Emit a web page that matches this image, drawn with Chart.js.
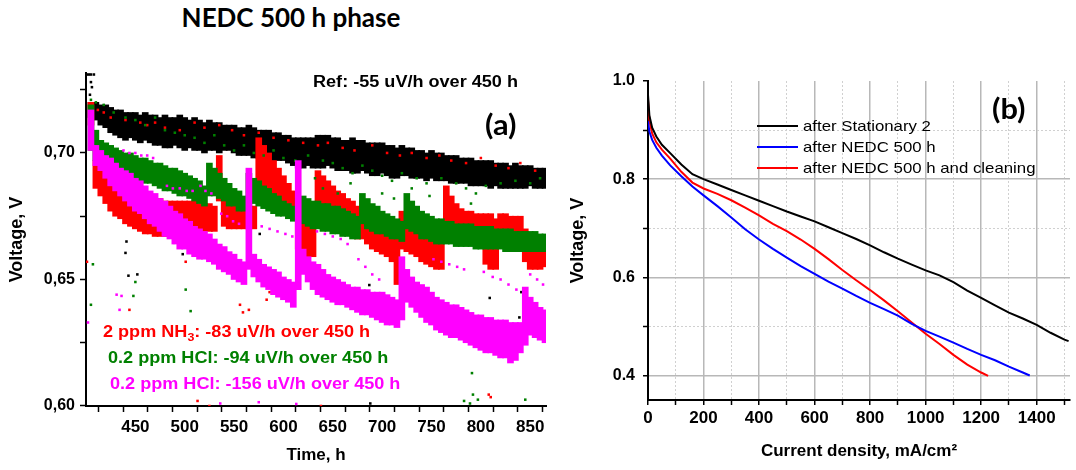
<!DOCTYPE html>
<html>
<head>
<meta charset="utf-8">
<script src="https://cdn.jsdelivr.net/npm/chart.js@4.4.0/dist/chart.umd.min.js"></script>
<style>
  html, body { margin: 0; padding: 0; background: #fff; }
  body { width: 1076px; height: 470px; position: relative; overflow: hidden; }
  #title { position: absolute; left: 0; top: 1px; width: 582px; text-align: center;
           font: bold 26px Lato, sans-serif; line-height: 32px; color: #000; }
  .panel { position: absolute; top: 0; height: 470px; }
  #left { left: 0; width: 560px; }
  #right { left: 560px; width: 516px; }
</style>
</head>
<body>
<div id="title">NEDC 500 h phase</div>
<div class="panel" id="left"><canvas id="timeChart"></canvas></div>
<div class="panel" id="right"><canvas id="polChart"></canvas></div>

<script>
// ---- (a) voltage vs time, 5 h bins: lower / upper edge of each cloud ----
const hours = [
  405,410,415,420,425,430,435,440,445,450,
  455,460,465,470,475,480,485,490,495,500,
  505,510,515,520,525,530,535,540,545,550,
  555,560,565,570,575,580,585,590,595,600,
  605,610,615,620,625,630,635,640,645,650,
  655,660,665,670,675,680,685,690,695,700,
  705,710,715,720,725,730,735,740,745,750,
  755,760,765,770,775,780,785,790,795,800,
  805,810,815,820,825,830,835,840,845,850,
  855,860,865
];

const refHigh = [
  0.720,0.720,0.719,0.719,0.718,0.717,0.717,0.716,0.716,0.716,
  0.715,0.716,0.715,0.715,0.714,0.715,0.714,0.714,0.715,0.714,
  0.713,0.714,0.713,0.712,0.713,0.712,0.712,0.711,0.711,0.711,
  0.710,0.710,0.711,0.710,0.709,0.709,0.709,0.708,0.708,0.707,
  0.707,0.706,0.706,0.706,0.706,0.706,0.707,0.707,0.707,0.706,
  0.706,0.705,0.705,0.706,0.705,0.705,0.704,0.704,0.704,0.704,
  0.703,0.703,0.702,0.703,0.702,0.702,0.701,0.701,0.700,0.701,
  0.700,0.700,0.699,0.699,0.699,0.698,0.698,0.698,0.697,0.697,
  0.697,0.697,0.696,0.696,0.696,0.695,0.696,0.695,0.695,0.695,
  0.694,0.694,0.694
];
const refLow = [
  0.714,0.713,0.711,0.710,0.708,0.707,0.706,0.705,0.706,0.705,
  0.704,0.705,0.704,0.703,0.703,0.702,0.702,0.703,0.702,0.701,
  0.702,0.701,0.701,0.700,0.701,0.701,0.700,0.701,0.701,0.700,
  0.699,0.699,0.699,0.698,0.698,0.698,0.697,0.697,0.697,0.697,
  0.696,0.695,0.694,0.694,0.695,0.694,0.694,0.694,0.695,0.694,
  0.693,0.693,0.693,0.692,0.692,0.693,0.692,0.691,0.691,0.692,
  0.691,0.690,0.690,0.691,0.691,0.690,0.690,0.690,0.689,0.690,
  0.689,0.689,0.689,0.688,0.688,0.688,0.688,0.687,0.687,0.687,
  0.687,0.686,0.687,0.686,0.686,0.686,0.686,0.686,0.686,0.687,
  0.686,0.686,0.686
];

const nh3High = [
  0.720,0.697,0.693,0.692,0.690,0.689,0.687,0.686,0.685,0.685,
  0.684,0.683,0.683,0.682,0.682,0.681,0.681,0.681,0.681,0.681,
  0.681,0.681,0.680,0.680,0.680,0.679,0.699,0.683,0.682,0.681,
  0.681,0.680,0.679,0.679,0.706,0.703,0.700,0.697,0.694,0.691,
  0.688,0.685,0.681,0.677,0.677,0.676,0.693,0.691,0.689,0.687,
  0.685,0.684,0.682,0.681,0.679,0.681,0.676,0.674,0.673,0.672,
  0.672,0.671,0.670,0.677,0.676,0.675,0.674,0.672,0.670,0.669,
  0.666,0.664,0.687,0.683,0.680,0.678,0.677,0.677,0.676,0.676,
  0.676,0.676,0.674,0.676,0.676,0.675,0.675,0.675,0.670,0.668,
  0.667,0.666,0.665
];
const nh3Low = [
  0.711,0.686,0.683,0.680,0.677,0.675,0.674,0.672,0.671,0.670,
  0.669,0.668,0.668,0.667,0.667,0.667,0.667,0.668,0.668,0.668,
  0.668,0.668,0.668,0.669,0.669,0.669,0.681,0.671,0.670,0.670,
  0.670,0.670,0.670,0.670,0.687,0.683,0.681,0.679,0.678,0.677,
  0.677,0.675,0.662,0.660,0.659,0.659,0.676,0.674,0.673,0.671,
  0.670,0.669,0.668,0.667,0.666,0.666,0.664,0.662,0.661,0.660,
  0.659,0.657,0.648,0.662,0.661,0.660,0.659,0.657,0.656,0.655,
  0.654,0.654,0.671,0.669,0.667,0.667,0.667,0.667,0.666,0.666,
  0.656,0.654,0.654,0.668,0.668,0.668,0.667,0.667,0.657,0.654,
  0.654,0.654,0.655
];

const hclHigh = [
  0.719,0.709,0.705,0.704,0.703,0.702,0.701,0.700,0.700,0.699,
  0.698,0.698,0.697,0.696,0.696,0.695,0.694,0.694,0.693,0.692,
  0.691,0.690,0.689,0.687,0.696,0.694,0.692,0.690,0.688,0.686,
  0.685,0.683,0.692,0.690,0.689,0.687,0.686,0.684,0.683,0.681,
  0.680,0.679,0.682,0.683,0.682,0.681,0.681,0.680,0.680,0.679,
  0.679,0.678,0.677,0.676,0.675,0.684,0.682,0.680,0.679,0.677,
  0.676,0.675,0.674,0.673,0.684,0.681,0.679,0.677,0.676,0.675,
  0.674,0.674,0.673,0.673,0.672,0.672,0.672,0.672,0.671,0.671,
  0.671,0.671,0.670,0.670,0.670,0.670,0.669,0.669,0.669,0.669,
  0.669,0.668,0.668
];
const hclLow = [
  0.701,0.697,0.696,0.695,0.694,0.693,0.692,0.691,0.690,0.690,
  0.689,0.688,0.688,0.687,0.686,0.685,0.685,0.684,0.683,0.683,
  0.682,0.681,0.680,0.679,0.683,0.683,0.682,0.681,0.679,0.679,
  0.677,0.677,0.679,0.680,0.679,0.678,0.677,0.676,0.675,0.675,
  0.674,0.673,0.673,0.672,0.671,0.670,0.670,0.669,0.669,0.668,
  0.668,0.667,0.667,0.666,0.666,0.672,0.670,0.669,0.668,0.668,
  0.667,0.666,0.666,0.665,0.670,0.669,0.668,0.666,0.666,0.665,
  0.664,0.664,0.664,0.664,0.663,0.663,0.663,0.663,0.662,0.662,
  0.662,0.662,0.662,0.662,0.661,0.661,0.661,0.661,0.661,0.661,
  0.661,0.661,0.661
];

const hcl2High = [
  0.717,0.703,0.701,0.699,0.698,0.696,0.694,0.693,0.692,0.690,
  0.689,0.687,0.685,0.684,0.682,0.681,0.679,0.677,0.676,0.674,
  0.673,0.671,0.670,0.669,0.668,0.666,0.664,0.663,0.661,0.660,
  0.658,0.657,0.694,0.660,0.658,0.656,0.655,0.654,0.653,0.651,
  0.650,0.649,0.697,0.662,0.659,0.657,0.656,0.654,0.652,0.651,
  0.650,0.649,0.648,0.647,0.647,0.646,0.646,0.645,0.645,0.645,
  0.644,0.643,0.642,0.659,0.654,0.651,0.649,0.648,0.647,0.645,
  0.643,0.642,0.641,0.640,0.640,0.639,0.638,0.637,0.636,0.636,
  0.635,0.635,0.634,0.634,0.634,0.633,0.633,0.633,0.647,0.643,
  0.641,0.639,0.638
];
const hcl2Low = [
  0.701,0.695,0.693,0.690,0.687,0.685,0.683,0.681,0.679,0.677,
  0.676,0.674,0.672,0.671,0.669,0.667,0.666,0.664,0.662,0.662,
  0.660,0.659,0.658,0.658,0.657,0.656,0.654,0.653,0.652,0.650,
  0.649,0.648,0.654,0.651,0.649,0.647,0.646,0.644,0.643,0.642,
  0.641,0.639,0.646,0.652,0.649,0.646,0.644,0.643,0.642,0.641,
  0.640,0.640,0.639,0.638,0.637,0.636,0.636,0.635,0.634,0.633,
  0.632,0.632,0.631,0.634,0.641,0.639,0.637,0.635,0.633,0.632,
  0.630,0.629,0.628,0.627,0.627,0.626,0.625,0.624,0.623,0.622,
  0.621,0.621,0.620,0.619,0.619,0.617,0.618,0.621,0.624,0.628,
  0.627,0.626,0.625
];

// single readings off the main clouds: [hours, volts]
const refStray = [
  [401,0.731],[403,0.731],[405,0.731],[408,0.731],[405,0.728],[406,0.726],[404,0.723],
  [441,0.665],[440,0.6605],[443,0.6515],[452,0.652],[489,0.6645],[498,0.660],[576,0.668],
  [687,0.6478],[702,0.6435],[688,0.601],[809,0.6427],[841,0.645],[839,0.635]
];
const nh3Trail = [
  [405,0.718],[412,0.717],[418,0.716],[425,0.714],[440,0.713],[455,0.712],[462,0.711],
  [470,0.712],[480,0.710],[495,0.709],[510,0.712],[520,0.710],[535,0.711],[548,0.709],
  [560,0.707],[575,0.708],[590,0.706],[605,0.705],[620,0.704],[635,0.703],[645,0.704],
  [660,0.702],[672,0.701],[690,0.703],[705,0.700],[718,0.699],[730,0.700],[745,0.698],
  [758,0.699],[770,0.697],[785,0.696],[800,0.698],[815,0.695],[828,0.694],[840,0.696],[855,0.693]
];
const nh3Stray = [
  [401,0.657],[444,0.638],[501,0.657],[556,0.640],[559,0.637],[565,0.638],[583,0.642],
  [586,0.645],[561,0.6525],[513,0.602],[525,0.600],[810,0.6035],[638,0.600],[808,0.6045]
];
const hclTrail = [
  [405,0.721],[410,0.720],[418,0.719],[428,0.716],[440,0.714],[450,0.713],[460,0.711],
  [470,0.714],[480,0.709],[490,0.708],[500,0.707],[510,0.706],[520,0.704],[530,0.707],
  [540,0.703],[550,0.701],[560,0.703],[570,0.700],[580,0.699],[590,0.701],[600,0.698],
  [612,0.697],[625,0.699],[640,0.697],[650,0.696],[660,0.694],[670,0.692],[680,0.695],
  [690,0.693],[700,0.691],[710,0.689],[720,0.692],[735,0.690],[745,0.688],[760,0.690],
  [775,0.688],[785,0.686],[795,0.684],[805,0.687],[820,0.688],[835,0.689],[850,0.688],
  [860,0.690],[632,0.690],[640,0.686],[655,0.684],[668,0.688],[700,0.684],[712,0.682],
  [730,0.686],[748,0.683],[790,0.680]
];
const hclStray = [
  [407,0.656],[405,0.640],[450,0.649],[448,0.6435],[501,0.646],[506,0.6375],[609,0.640],
  [791,0.613],[783,0.602],[792,0.6045],[797,0.6025],[845,0.6025],[789,0.601]
];
const hcl2Trail = [
  [438,0.701],[444,0.700],[450,0.700],[456,0.699],[462,0.699],[468,0.698],
  [482,0.687],[488,0.686],[495,0.686],[502,0.685],[508,0.685],
  [516,0.687],[521,0.685],[527,0.684],
  [537,0.676],[543,0.675],[549,0.673],[555,0.672],
  [578,0.671],[586,0.670],[594,0.669],[602,0.668],[609,0.667],
  [634,0.669],[642,0.668],[650,0.667],[658,0.666],[665,0.664],
  [676,0.658],[683,0.655],[690,0.652],[697,0.650],
  [752,0.658],[760,0.657],[768,0.656],[776,0.655],[783,0.654],
  [803,0.653],[812,0.651],[820,0.650],[828,0.648],[836,0.646],
  [850,0.652],[857,0.650],[863,0.648]
];
const hcl2Stray = [
  [431,0.644],[436,0.6435],[434,0.638],[402,0.633],[536,0.601],[575,0.6015],[613,0.6008]
];

// ---- (b) polarisation curves ----
const stationaryI = [0,5,15,30,50,80,120,160,200,250,300,350,400,450,500,550,600,650,700,750,
  800,850,900,950,1000,1050,1100,1150,1200,1250,1300,1350,1400,1450,1500,1515];
const stationaryV = [0.972,0.930,0.905,0.887,0.870,0.853,0.830,0.810,0.800,0.789,0.778,0.767,0.756,
  0.745,0.734,0.724,0.714,0.702,0.690,0.678,0.665,0.651,0.638,0.626,0.614,0.604,0.590,0.573,0.558,
  0.543,0.528,0.516,0.503,0.487,0.473,0.470];
const nedcI = [0,5,15,30,50,80,120,160,200,250,300,350,400,450,500,550,600,650,700,750,
  800,850,900,950,1000,1050,1100,1150,1200,1250,1300,1350,1375];
const nedcV = [0.918,0.897,0.880,0.864,0.848,0.828,0.806,0.785,0.767,0.745,0.722,0.698,0.677,0.658,
  0.640,0.623,0.607,0.591,0.577,0.562,0.548,0.535,0.522,0.505,0.491,0.479,0.467,0.454,0.442,0.431,
  0.418,0.406,0.400];
const cleanI = [0,5,15,30,50,80,120,160,200,250,300,350,400,450,500,550,600,650,700,750,
  800,850,900,950,1000,1050,1100,1150,1200,1225];
const cleanV = [0.962,0.920,0.893,0.875,0.860,0.842,0.815,0.793,0.781,0.770,0.757,0.742,0.726,0.709,
  0.694,0.677,0.658,0.637,0.615,0.594,0.574,0.553,0.531,0.508,0.485,0.464,0.442,0.422,0.406,0.399];

const polLabels = ['after Stationary 2', 'after NEDC 500 h', 'after NEDC 500 h and cleaning'];

const FONT = "'Liberation Sans', Arial, sans-serif";
const BLACK = '#000000', RED = '#ff0000', GREEN = '#008000', MAGENTA = '#ff00ff', BLUE = '#0000ff';

function band(low, high) {
  return hours.map((t, i) => ({ x: t, y: [low[i], high[i]] }));
}
function pts(list) {
  return list.map(p => ({ x: p[0], y: p[1] }));
}
function curve(xs, ys) {
  return xs.map((x, i) => ({ x, y: ys[i] }));
}
function bandSet(data, color, order) {
  return { type: 'bar', data, backgroundColor: color, borderWidth: 0,
           barThickness: 6, grouped: false, order };
}
function dotSet(data, color, order) {
  return { type: 'scatter', data, backgroundColor: color, borderWidth: 0,
           pointStyle: 'rect', pointRadius: 1.8, order };
}

// text squeezed/stretched horizontally like the exported figure
function drawText(ctx, text, x, y, font, color, sx) {
  ctx.save();
  ctx.font = font;
  ctx.fillStyle = color;
  ctx.textBaseline = 'alphabetic';
  ctx.translate(x, y);
  ctx.scale(sx, 1);
  ctx.fillText(text, 0, 0);
  const w = ctx.measureText(text).width * sx;
  ctx.restore();
  return x + w;
}

const tickFont = { family: FONT, size: 17, weight: 'bold' };
const yTickFont = { family: FONT, size: 16, weight: 'bold' };
const titleFont = { family: FONT, size: 17, weight: 'bold' };
const yTitleFont = { family: FONT, size: 18, weight: 'bold' };

const timeNotes = {
  id: 'timeNotes',
  afterDraw(chart) {
    const ctx = chart.ctx;
    const f = 'bold 16px ' + FONT;
    drawText(ctx, 'Ref: -55 uV/h over 450 h', 313, 87, f, BLACK, 1.13);
    drawText(ctx, '(a)', 485, 135, 'bold 28px Lato, sans-serif', BLACK, 1.1);
    let x = drawText(ctx, '2 ppm NH', 103, 337, f, RED, 1.13);
    x = drawText(ctx, '3', x, 341, 'bold 11px ' + FONT, RED, 1.13);
    drawText(ctx, ': -83 uV/h over 450 h', x, 337, f, RED, 1.13);
    drawText(ctx, '0.2 ppm HCl: -94 uV/h over 450 h', 108, 363, f, GREEN, 1.13);
    drawText(ctx, '0.2 ppm HCl: -156 uV/h over 450 h', 110, 389, f, MAGENTA, 1.13);
  }
};

new Chart(document.getElementById('timeChart'), {
  type: 'scatter',
  data: {
    datasets: [
      bandSet(band(hcl2Low, hcl2High), MAGENTA, 0),
      dotSet(pts(hcl2Trail), MAGENTA, 0),
      dotSet(pts(hcl2Stray), MAGENTA, 0),
      bandSet(band(hclLow, hclHigh), GREEN, 1),
      dotSet(pts(hclTrail), GREEN, 1),
      dotSet(pts(hclStray), GREEN, 1),
      bandSet(band(nh3Low, nh3High), RED, 2),
      dotSet(pts(nh3Trail), RED, 2),
      dotSet(pts(nh3Stray), RED, 2),
      bandSet(band(refLow, refHigh), BLACK, 3),
      dotSet(pts(refStray), BLACK, 3)
    ]
  },
  options: {
    responsive: true,
    maintainAspectRatio: false,
    animation: false,
    layout: { padding: { top: 73, right: 14, left: 0, bottom: 0 } },
    plugins: { legend: { display: false }, tooltip: { enabled: false } },
    scales: {
      x: {
        type: 'linear', min: 400, max: 866, offset: false,
        ticks: {
          stepSize: 25, includeBounds: false, autoSkip: false, maxRotation: 0,
          padding: 5, color: BLACK, font: tickFont,
          callback: v => (v % 50 === 0 && v > 400) ? String(v) : ''
        },
        grid: { drawOnChartArea: false, drawTicks: true, tickLength: 6, tickColor: BLACK, tickWidth: 1.5 },
        border: { color: BLACK, width: 2 },
        title: { display: true, text: 'Time, h', color: BLACK, font: titleFont, padding: { top: 0, bottom: 4 } },
        afterFit: s => { s.height = 64; }
      },
      y: {
        type: 'linear', min: 0.60, max: 0.7316,
        ticks: {
          stepSize: 0.025, includeBounds: false, autoSkip: false, padding: 5,
          color: BLACK, font: yTickFont,
          callback: v => {
            const k = Math.round(v * 1000);
            return k % 50 === 0 ? (k / 1000).toFixed(2).replace('.', ',') : '';
          }
        },
        grid: { drawOnChartArea: false, drawTicks: true, tickLength: 6, tickColor: BLACK, tickWidth: 1.5 },
        border: { color: BLACK, width: 2 },
        title: { display: true, text: 'Voltage, V', color: BLACK, font: yTitleFont, padding: { top: 6, bottom: 0 } },
        afterFit: s => { s.width = 86; }
      }
    }
  },
  plugins: [timeNotes]
});

// legend drawn inside the plot, plus the panel letter
const polNotes = {
  id: 'polNotes',
  afterDraw(chart) {
    const ctx = chart.ctx;
    chart.data.datasets.forEach((ds, i) => {
      const y = 126 + i * 21;
      ctx.save();
      ctx.strokeStyle = ds.borderColor;
      ctx.lineWidth = 2;
      ctx.beginPath();
      ctx.moveTo(197, y);
      ctx.lineTo(238, y);
      ctx.stroke();
      ctx.restore();
      drawText(ctx, ds.label, 243, y + 5, '15px ' + FONT, BLACK, 1.12);
    });
    drawText(ctx, '(b)', 432, 119, 'bold 28px Lato, sans-serif', BLACK, 1.1);
  }
};

const isMajorI = v => Math.round(v) % 200 === 0;
const isMajorV = v => Math.round(v * 10) % 2 === 0;

new Chart(document.getElementById('polChart'), {
  type: 'scatter',
  data: {
    datasets: [
      { label: polLabels[0], data: curve(stationaryI, stationaryV), borderColor: BLACK },
      { label: polLabels[1], data: curve(nedcI, nedcV), borderColor: BLUE },
      { label: polLabels[2], data: curve(cleanI, cleanV), borderColor: RED }
    ].map(d => Object.assign(d, { showLine: true, borderWidth: 2, pointRadius: 0, tension: 0, backgroundColor: d.borderColor }))
  },
  options: {
    responsive: true,
    maintainAspectRatio: false,
    animation: false,
    layout: { padding: { top: 81, right: 6, left: 0, bottom: 0 } },
    plugins: { legend: { display: false }, tooltip: { enabled: false } },
    scales: {
      x: {
        type: 'linear', min: 0, max: 1520, offset: false,
        ticks: {
          stepSize: 100, includeBounds: false, autoSkip: false, maxRotation: 0,
          padding: 3, color: BLACK, font: tickFont,
          callback: v => isMajorI(v) ? String(v) : ''
        },
        grid: {
          color: c => isMajorI(c.tick.value) ? '#b8b8b8' : '#d0d0d0',
          lineWidth: c => isMajorI(c.tick.value) ? 1.5 : 1,
          drawTicks: true, tickLength: 5, tickColor: BLACK, tickWidth: 1.5
        },
        border: { color: BLACK, width: 2, dash: c => (c.tick && !isMajorI(c.tick.value)) ? [2, 2] : [] },
        title: { display: true, text: 'Current density, mA/cm\u00b2', color: BLACK, font: titleFont, padding: { top: 0, bottom: 8 } },
        afterFit: s => { s.height = 70; }
      },
      y: {
        type: 'linear', min: 0.35, max: 1.0,
        ticks: {
          stepSize: 0.1, includeBounds: false, autoSkip: false, padding: 8,
          color: BLACK, font: yTickFont,
          callback: v => isMajorV(v) ? (Math.round(v * 10) / 10).toFixed(1) : ''
        },
        grid: {
          color: c => c.tick.value > 0.99 ? 'rgba(0,0,0,0)' : (isMajorV(c.tick.value) ? '#b8b8b8' : '#d0d0d0'),
          lineWidth: c => isMajorV(c.tick.value) ? 1.5 : 1,
          drawTicks: true, tickLength: 5, tickColor: BLACK, tickWidth: 1.5
        },
        border: { color: BLACK, width: 2, dash: c => (c.tick && !isMajorV(c.tick.value)) ? [2, 2] : [] },
        title: { display: true, text: 'Voltage, V', color: BLACK, font: yTitleFont, padding: { top: 7, bottom: 0 } },
        afterFit: s => { s.width = 88; }
      }
    }
  },
  plugins: [polNotes]
});
</script>
</body>
</html>
